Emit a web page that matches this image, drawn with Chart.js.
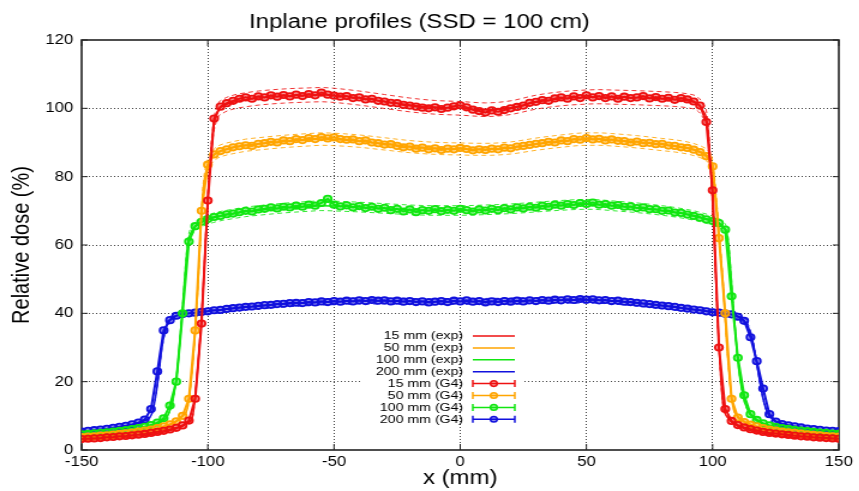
<!DOCTYPE html>
<html>
<head>
<meta charset="utf-8">
<title>Inplane profiles (SSD = 100 cm)</title>
<script src="https://cdn.jsdelivr.net/npm/chart.js@4.4.1/dist/chart.umd.min.js"></script>
<style>
  html, body { margin: 0; padding: 0; background: #fff; overflow: hidden; }
  #wrap { width: 859px; height: 491px; }
  /* the reference image is stretched horizontally, so the canvas is too */
  #chart { display: block; transform: scaleX(1.2); transform-origin: 0 0; }
</style>
</head>
<body>
<div id="wrap"><canvas id="chart" width="716" height="491"></canvas></div>
<script>
const depths = ['15 mm', '50 mm', '100 mm', '200 mm'];
const colors = ['#ee1111', '#ffa500', '#11e611', '#1111dd'];
const xTicks = [-150, -100, -50, 0, 50, 100, 150];
const yTicks = [0, 20, 40, 60, 80, 100, 120];
const expTolerance = 0.02; // dashed lines: exp +/- 2 %

// measured profiles (exp)
const xExp = [
  -150, -140, -130, -125, -122, -120, -118, -116, -114, -112,
  -110, -108, -106, -104, -102, -100, -98, -96, -94, -90,
  -85, -80, -70, -60, -55, -50, -40, -30, -20, -10,
  0, 10, 20, 30, 40, 50, 55, 60, 70, 80,
  85, 90, 94, 96, 98, 100, 102, 104, 106, 108,
  110, 112, 114, 116, 118, 120, 122, 125, 130, 140,
  150
];
const exp15 = [
  2.8, 3.3, 3.9, 4.3, 4.6, 4.9, 5.2, 5.5, 5.9, 6.4,
  7.0, 7.9, 10, 24, 45, 74, 93, 99.2, 100.6, 101.8,
  102.5, 103, 103.6, 103.9, 104.0, 103.8, 103.0, 102.0, 101.0, 100.3,
  100.0, 99.6, 100.2, 101.8, 102.8, 103.3, 103.4, 103.3, 103.1, 102.8,
  102.6, 102.2, 101.3, 99.5, 95, 72, 38, 14, 9.5, 7.9,
  7.0, 6.4, 5.9, 5.5, 5.2, 4.9, 4.6, 4.3, 3.9, 3.3,
  2.9
];
const exp50 = [
  3.5, 4.1, 4.9, 5.4, 5.8, 6.1, 6.6, 7.1, 7.7, 8.6,
  10, 12.5, 25, 47, 75, 83.5, 86, 87.2, 87.8, 88.5,
  89.2, 89.6, 90.3, 90.8, 91.0, 90.9, 90.4, 89.6, 88.8, 88.3,
  88.1, 88.0, 88.4, 89.5, 90.4, 91.0, 91.0, 90.8, 90.2, 89.4,
  89.0, 88.4, 87.6, 87.0, 86.0, 83, 68, 50, 27, 13,
  9.8, 8.6, 7.7, 7.1, 6.6, 6.1, 5.8, 5.4, 4.9, 4.1,
  3.5
];
const exp100 = [
  4.4, 5.0, 5.9, 6.5, 7.0, 7.6, 8.5, 10, 14, 24,
  42, 60, 64.5, 66, 66.8, 67.4, 67.9, 68.3, 68.6, 69.1,
  69.7, 70.1, 70.8, 71.3, 71.5, 71.4, 71.1, 70.7, 70.3, 70.1,
  70.1, 70.3, 70.6, 71.1, 71.6, 71.9, 71.8, 71.5, 70.9, 70.1,
  69.6, 69.0, 68.4, 68.0, 67.6, 67.1, 66.5, 65.6, 62, 44,
  26, 16, 11.5, 9.5, 8.4, 7.7, 7.1, 6.6, 6.0, 5.1,
  4.5
];
const exp200 = [
  5.2, 6.0, 7.3, 8.6, 11, 19, 31, 37, 38.8, 39.4,
  39.7, 39.9, 40.1, 40.3, 40.4, 40.6, 40.8, 40.9, 41.1, 41.4,
  41.8, 42.1, 42.7, 43.1, 43.3, 43.4, 43.6, 43.6, 43.5, 43.4,
  43.5, 43.5, 43.6, 43.7, 43.8, 43.9, 43.8, 43.6, 43.0, 42.2,
  41.8, 41.3, 41.0, 40.8, 40.6, 40.4, 40.2, 40.0, 39.8, 39.6,
  39.2, 38.3, 36.2, 31.5, 23, 15, 10.5, 8.4, 7.2, 6.0,
  5.3
];

// Geant4 simulation (G4)
const xG4 = [
  -150, -147.5, -145, -142.5, -140, -137.5, -135, -132.5, -130, -127.5,
  -125, -122.5, -120, -117.5, -115, -112.5, -110, -107.5, -105, -102.5,
  -100, -97.5, -95, -92.5, -90, -87.5, -85, -82.5, -80, -77.5,
  -75, -72.5, -70, -67.5, -65, -62.5, -60, -57.5, -55, -52.5,
  -50, -47.5, -45, -42.5, -40, -37.5, -35, -32.5, -30, -27.5,
  -25, -22.5, -20, -17.5, -15, -12.5, -10, -7.5, -5, -2.5,
  0, 2.5, 5, 7.5, 10, 12.5, 15, 17.5, 20, 22.5,
  25, 27.5, 30, 32.5, 35, 37.5, 40, 42.5, 45, 47.5,
  50, 52.5, 55, 57.5, 60, 62.5, 65, 67.5, 70, 72.5,
  75, 77.5, 80, 82.5, 85, 87.5, 90, 92.5, 95, 97.5,
  100, 102.5, 105, 107.5, 110, 112.5, 115, 117.5, 120, 122.5,
  125, 127.5, 130, 132.5, 135, 137.5, 140, 142.5, 145, 147.5,
  150
];
const g4_15 = [
  3.2, 3.3, 3.4, 3.5, 3.7, 3.8, 4.0, 4.1, 4.3, 4.5,
  4.7, 5.0, 5.3, 5.6, 6.0, 6.5, 7.2, 8.6, 15, 37,
  73, 97, 100.5, 101.5, 102.2, 102.8, 103.2, 102.8, 103.5, 103.2,
  103.8, 103.4, 103.9, 103.5, 104.0, 103.6, 104.2, 103.8, 104.6, 104.0,
  103.7, 103.4, 103.6, 103.0, 103.2, 102.6, 102.8, 102.2, 102.0, 101.6,
  101.5, 101.0, 100.8, 100.5, 100.2, 100.0, 100.3, 99.8, 100.2, 100.6,
  100.9, 100.3, 99.6, 99.2, 98.8, 99.4, 99.0, 99.5, 100.0, 100.4,
  100.8, 101.6, 101.9, 102.4, 102.2, 102.9, 103.2, 102.8, 103.5, 103.0,
  103.8, 103.2, 103.6, 103.0, 103.5, 102.8, 103.4, 103.0, 103.2, 103.6,
  102.9, 103.3, 102.8, 103.1, 102.5, 103.0, 102.6, 102.0, 100.8, 96,
  76, 30, 12, 8.5, 7.3, 6.6, 6.1, 5.7, 5.3, 5.0,
  4.8, 4.6, 4.4, 4.2, 4.0, 3.9, 3.7, 3.6, 3.5, 3.4,
  3.3
];
const g4_50 = [
  3.8, 3.9, 4.0, 4.2, 4.3, 4.5, 4.7, 4.9, 5.1, 5.4,
  5.7, 6.0, 6.4, 6.9, 7.5, 8.4, 10, 15, 35, 70,
  83.5, 86.5, 87.5, 88.0, 88.6, 88.9, 89.2, 89.0, 89.6, 89.8,
  90.2, 90.0, 90.6, 90.4, 91.0, 90.7, 91.3, 91.0, 91.6, 91.2,
  91.5, 91.0, 90.8, 90.9, 90.4, 90.6, 90.0, 89.8, 89.4, 89.5,
  89.0, 88.6, 88.8, 88.2, 88.5, 88.0, 88.3, 87.8, 88.2, 88.0,
  88.4, 88.1, 87.7, 88.0, 87.8, 88.2, 88.0, 88.5, 88.3, 88.8,
  89.0, 89.3, 89.6, 89.8, 90.2, 90.0, 90.6, 90.4, 91.0, 90.8,
  91.3, 90.9, 91.1, 90.6, 90.9, 90.5, 90.4, 90.0, 90.3, 89.8,
  89.9, 89.5, 89.6, 89.1, 89.0, 88.6, 88.4, 87.9, 87.2, 86.0,
  83, 62, 40, 15, 9.5, 8.2, 7.4, 6.9, 6.4, 6.0,
  5.7, 5.4, 5.2, 5.0, 4.8, 4.6, 4.4, 4.3, 4.1, 4.0,
  3.9
];
const g4_100 = [
  4.6, 4.7, 4.9, 5.0, 5.2, 5.4, 5.6, 5.8, 6.1, 6.4,
  6.8, 7.3, 8.0, 9.3, 13, 20, 40, 61, 65.5, 66.8,
  67.6, 68.2, 68.5, 69.0, 69.2, 69.6, 70.0, 69.8, 70.4, 70.6,
  71.0, 70.7, 71.2, 71.0, 71.5, 71.2, 71.8, 71.5, 72.3, 73.5,
  71.8, 71.3, 71.6, 71.0, 71.4, 70.8, 71.2, 70.6, 70.9, 70.2,
  70.6, 69.8, 70.4, 69.6, 70.2, 70.0, 70.5, 69.9, 70.3, 70.0,
  70.6, 70.2, 69.8, 70.4, 70.1, 70.6, 70.2, 70.8, 70.4, 71.0,
  70.7, 71.2, 70.9, 71.5, 71.2, 71.8, 71.5, 72.0, 71.7, 72.3,
  72.0, 72.4, 71.8, 72.0, 71.5, 71.7, 71.2, 71.3, 70.8, 71.0,
  70.5, 70.5, 70.0, 70.1, 69.5, 69.4, 68.9, 68.5, 68.0, 67.5,
  67.0, 66.4, 64.5, 45, 27, 16, 10.5, 8.8, 7.8, 7.2,
  6.8, 6.4, 6.2, 5.9, 5.7, 5.5, 5.3, 5.1, 5.0, 4.8,
  4.7
];
const g4_200 = [
  5.4, 5.6, 5.8, 6.0, 6.2, 6.5, 6.8, 7.1, 7.5, 8.0,
  8.9, 12, 23, 35, 38, 39.3, 39.8, 40.0, 40.2, 40.4,
  40.6, 40.9, 41.0, 41.3, 41.5, 41.7, 41.9, 42.0, 42.2, 42.4,
  42.5, 42.7, 42.8, 43.0, 43.1, 43.0, 43.3, 43.2, 43.5, 43.3,
  43.6, 43.4, 43.7, 43.5, 43.8, 43.6, 43.9, 43.7, 43.8, 43.5,
  43.7, 43.4, 43.6, 43.3, 43.5, 43.2, 43.4, 43.6, 43.3, 43.7,
  43.5, 43.8, 43.4, 43.6, 43.2, 43.5, 43.3, 43.6, 43.4, 43.7,
  43.5, 43.8, 43.6, 43.9, 43.7, 44.0, 43.8, 44.1, 43.9, 44.2,
  44.0, 44.1, 43.8, 43.9, 43.6, 43.7, 43.4, 43.3, 43.1, 42.9,
  42.7, 42.5, 42.3, 42.1, 41.9, 41.6, 41.4, 41.1, 40.9, 40.6,
  40.3, 40.2, 39.9, 39.7, 39.0, 37.8, 33, 26, 18, 10.5,
  8.3, 7.6, 7.2, 6.9, 6.6, 6.3, 6.1, 5.9, 5.7, 5.6,
  5.5
];

const expSeries = [exp15, exp50, exp100, exp200];
const g4Series = [g4_15, g4_50, g4_100, g4_200];

const toPoints = (xs, ys) => xs.map((v, i) => ({ x: v, y: ys[i] }));
const fade = (hex, a) => {
  const n = parseInt(hex.slice(1), 16);
  return `rgba(${n >> 16}, ${(n >> 8) & 255}, ${n & 255}, ${a})`;
};

const datasets = [];
expSeries.forEach((ys, i) => {
  [1 + expTolerance, 1 - expTolerance].forEach((f) => {
    datasets.push({
      label: depths[i] + ' (exp) band',
      data: xExp.map((v, k) => ({ x: v, y: ys[k] * f })),
      borderColor: fade(colors[i], 0.85),
      borderWidth: 1,
      borderDash: [4, 3],
      pointRadius: 0,
      cubicInterpolationMode: 'monotone',
      order: 2,
    });
  });
  datasets.push({
    label: depths[i] + ' (exp)',
    data: toPoints(xExp, ys),
    borderColor: colors[i],
    borderWidth: 1.5,
    pointRadius: 0,
    cubicInterpolationMode: 'monotone',
    order: 1,
  });
});
g4Series.forEach((ys, i) => {
  datasets.push({
    label: depths[i] + ' (G4)',
    data: toPoints(xG4, ys),
    borderColor: colors[i],
    borderWidth: 2,
    pointRadius: 3.2,
    pointBorderWidth: 1.8,
    pointBorderColor: colors[i],
    pointBackgroundColor: fade(colors[i], 0.45),
    order: 0,
  });
});

const gridColor = 'rgba(0, 0, 0, 0.75)';
const edgeHidden = (lo, hi) => (ctx) => (ctx.tick && (ctx.tick.value === lo || ctx.tick.value === hi) ? 'rgba(0,0,0,0)' : gridColor);

// gnuplot style box with inward tics on all four sides
const frameTics = {
  id: 'frameTics',
  beforeDatasetsDraw(chart) {
    const { ctx, chartArea: a, scales: { x, y } } = chart;
    ctx.save();
    ctx.strokeStyle = '#222';
    ctx.lineWidth = 1;
    ctx.beginPath();
    xTicks.forEach((v) => {
      const px = x.getPixelForValue(v);
      ctx.moveTo(px, a.bottom); ctx.lineTo(px, a.bottom - 6);
      ctx.moveTo(px, a.top); ctx.lineTo(px, a.top + 6);
    });
    yTicks.forEach((v) => {
      const py = y.getPixelForValue(v);
      ctx.moveTo(a.left, py); ctx.lineTo(a.left + 5, py);
      ctx.moveTo(a.right, py); ctx.lineTo(a.right - 5, py);
    });
    ctx.stroke();
    ctx.lineWidth = 1.6;
    ctx.strokeRect(a.left, a.top, a.right - a.left, a.bottom - a.top);
    ctx.restore();
  },
};

// key inside the plot, text right aligned like gnuplot
const keyBox = {
  id: 'keyBox',
  afterDatasetsDraw(chart) {
    const { ctx, scales: { x } } = chart;
    const labels = depths.map((d) => d + ' (exp)').concat(depths.map((d) => d + ' (G4)'));
    ctx.save();
    ctx.fillStyle = '#fff';
    ctx.fillRect(300, 328, 136, 99);
    // the x = 0 grid line shows through the key
    const x0 = x.getPixelForValue(0);
    ctx.strokeStyle = gridColor;
    ctx.lineWidth = 1;
    ctx.setLineDash([1, 2]);
    ctx.beginPath();
    ctx.moveTo(x0, 328); ctx.lineTo(x0, 427);
    ctx.stroke();
    ctx.setLineDash([]);
    ctx.font = '11.8px "Liberation Sans", Arial, sans-serif';
    ctx.textAlign = 'right';
    ctx.textBaseline = 'middle';
    labels.forEach((label, i) => {
      const yy = 336 + i * 11.9;
      const c = colors[i % 4];
      ctx.fillStyle = '#000';
      ctx.fillText(label, 386, yy);
      ctx.strokeStyle = c;
      ctx.lineWidth = 1.5;
      ctx.beginPath();
      ctx.moveTo(394, yy); ctx.lineTo(429, yy);
      if (i >= 4) {
        ctx.moveTo(394, yy - 3.5); ctx.lineTo(394, yy + 3.5);
        ctx.moveTo(429, yy - 3.5); ctx.lineTo(429, yy + 3.5);
      }
      ctx.stroke();
      if (i >= 4) {
        ctx.beginPath();
        ctx.arc(411.5, yy, 2.8, 0, Math.PI * 2);
        ctx.fillStyle = fade(c, 0.45);
        ctx.fill();
        ctx.stroke();
      }
    });
    ctx.restore();
  },
};

Chart.defaults.font.family = '"Liberation Sans", Arial, sans-serif';
Chart.defaults.color = '#000';

new Chart(document.getElementById('chart').getContext('2d'), {
  type: 'line',
  data: { datasets },
  options: {
    responsive: false,
    animation: false,
    devicePixelRatio: 1,
    layout: { padding: { left: 0, right: 17, top: 0, bottom: 0 } },
    plugins: {
      legend: { display: false },
      tooltip: { enabled: false },
      title: {
        display: true,
        text: 'Inplane profiles (SSD = 100 cm)',
        color: '#000',
        font: { size: 20, weight: 'normal' },
        padding: { top: 10, bottom: 6 },
      },
    },
    scales: {
      x: {
        type: 'linear',
        min: -150,
        max: 150,
        afterFit: (scale) => { scale.height = 41; },
        afterBuildTicks: (scale) => { scale.ticks = xTicks.map((v) => ({ value: v })); },
        ticks: { font: { size: 14 }, padding: 4, maxRotation: 0 },
        grid: { color: edgeHidden(-150, 150), lineWidth: 1, drawTicks: false },
        border: { display: false, dash: [1, 2] },
        title: { display: true, text: 'x (mm)', font: { size: 20 }, padding: { top: 0, bottom: 1 } },
      },
      y: {
        min: 0,
        max: 120,
        afterFit: (scale) => { scale.width = 68; },
        afterBuildTicks: (scale) => { scale.ticks = yTicks.map((v) => ({ value: v })); },
        ticks: { font: { size: 14 }, padding: 7 },
        grid: { color: edgeHidden(0, 120), lineWidth: 1, drawTicks: false },
        border: { display: false, dash: [1, 2] },
        title: { display: true, text: 'Relative dose (%)', font: { size: 20 }, padding: { top: 6, bottom: 0 } },
      },
    },
  },
  plugins: [frameTics, keyBox],
});
</script>
</body>
</html>
